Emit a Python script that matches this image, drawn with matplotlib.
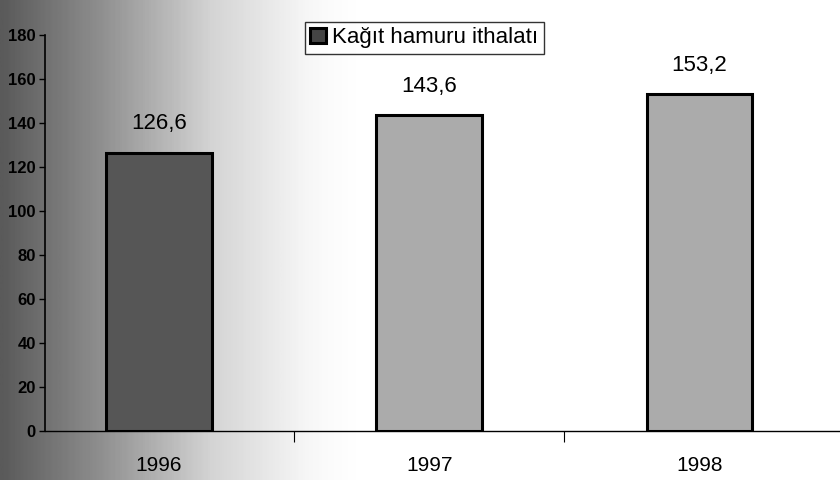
import numpy as np
import matplotlib
matplotlib.use("Agg")
import matplotlib.pyplot as plt
from matplotlib.colors import LinearSegmentedColormap

# data
years = ["1996", "1997", "1998"]
values = [126.6, 143.6, 153.2]
value_labels = ["126,6", "143,6", "153,2"]
series_name = "Kağıt hamuru ithalatı"
yticks = [0, 20, 40, 60, 80, 100, 120, 140, 160, 180]

plt.rcParams["font.family"] = ["Liberation Sans", "DejaVu Sans"]

fig = plt.figure(figsize=(8.4, 4.8), dpi=100)

# scanned-page shading on the left side
bg = fig.add_axes([0, 0, 1, 1], zorder=-1)
grad = np.linspace(0, 1, 400).reshape(1, -1)
cmap = LinearSegmentedColormap.from_list(
    "scan", [(0.0, "#5a5a5a"), (0.12, "#909090"), (0.25, "#d4d4d4"), (0.37, "#f8f8f8"), (0.42, "#ffffff"), (1.0, "#ffffff")])
bg.imshow(grad, aspect="auto", cmap=cmap, extent=[0, 1, 0, 1])
bg.axis("off")

ax = fig.add_axes([0.054, 0.102, 0.946, 0.825])
ax.set_facecolor("none")

x = np.arange(len(years))
colors = ["#565656", "#ababab", "#ababab"]
bars = ax.bar(x, values, width=0.39, color=colors, edgecolor="black", linewidth=2.2,
              label=series_name, zorder=3)

for xi, v, lab in zip(x, values, value_labels):
    ax.annotate(lab, (xi, v), xytext=(0, 13), textcoords="offset points",
                ha="center", va="bottom", fontsize=16)

ax.set_xlim(-0.42, 2.52)
ax.set_ylim(0, 180)
ax.set_yticks(yticks)
ax.set_yticklabels([str(t) for t in yticks], fontsize=12, fontweight="bold")
ax.set_xticks(x)
ax.set_xticklabels(years, fontsize=15)
ax.tick_params(axis="x", length=0, pad=18)
ax.set_xticks([0.5, 1.5], minor=True)
ax.tick_params(axis="x", which="minor", length=8, direction="out", width=0.8)
ax.tick_params(axis="y", length=4, width=1, direction="out", pad=3)

for s in ["top", "right"]:
    ax.spines[s].set_visible(False)
ax.spines["left"].set_linewidth(1.2)
ax.spines["bottom"].set_linewidth(1.0)

leg = ax.legend(loc="center", bbox_to_anchor=(0.477, 0.993), fontsize=16, frameon=True,
                fancybox=False, edgecolor="black", handlelength=0.7, handleheight=0.7,
                handletextpad=0.3, borderpad=0.25)
leg.get_frame().set_linewidth(1.0)
leg.legend_handles[0].set_facecolor("#444444")

fig.savefig("out.png", dpi=100)
